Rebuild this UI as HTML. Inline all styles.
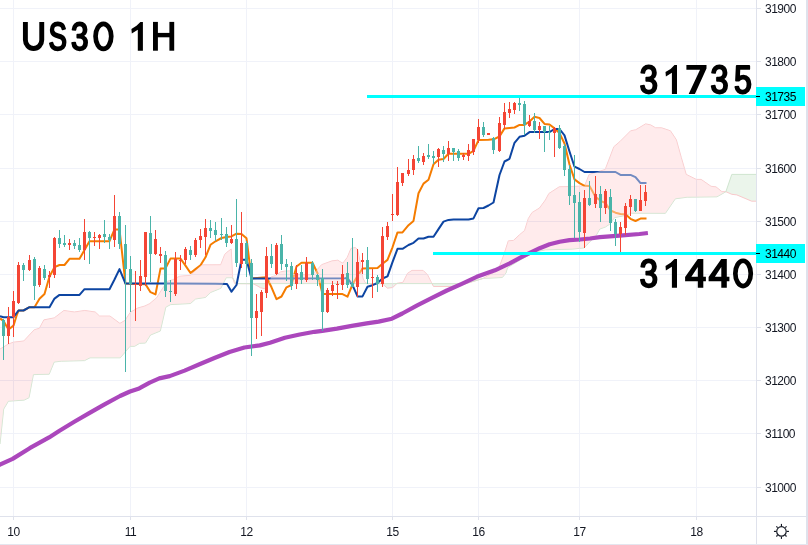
<!DOCTYPE html>
<html><head><meta charset="utf-8"><title>US30 1H</title>
<style>
html,body{margin:0;padding:0;background:#fff;}
body{width:808px;height:545px;position:relative;overflow:hidden;font-family:"Liberation Sans",sans-serif;}
.pl{position:absolute;left:765px;font-size:12px;line-height:14px;height:14px;letter-spacing:-0.5px;color:#131722;white-space:nowrap;}
.tl{position:absolute;top:525px;font-size:12px;line-height:14px;height:14px;letter-spacing:-0.5px;color:#131722;white-space:nowrap;transform:translateX(-50%);}
.big{position:absolute;font-weight:bold;font-size:40px;line-height:40px;color:transparent;white-space:nowrap;}
</style></head><body>
<svg width="808" height="545" viewBox="0 0 808 545" style="position:absolute;left:0;top:0">
<rect width="808" height="545" fill="#fff"/>
<g shape-rendering="crispEdges" fill="#f0f2f9">
<rect x="0" y="8" width="756" height="1"/>
<rect x="0" y="61" width="756" height="1"/>
<rect x="0" y="114" width="756" height="1"/>
<rect x="0" y="168" width="756" height="1"/>
<rect x="0" y="221" width="756" height="1"/>
<rect x="0" y="274" width="756" height="1"/>
<rect x="0" y="327" width="756" height="1"/>
<rect x="0" y="380" width="756" height="1"/>
<rect x="0" y="433" width="756" height="1"/>
<rect x="0" y="487" width="756" height="1"/>
<rect x="13" y="0" width="1" height="516"/>
<rect x="130" y="0" width="1" height="516"/>
<rect x="246" y="0" width="1" height="516"/>
<rect x="392" y="0" width="1" height="516"/>
<rect x="478" y="0" width="1" height="516"/>
<rect x="579" y="0" width="1" height="516"/>
<rect x="696" y="0" width="1" height="516"/>
</g>
<defs><clipPath id="cp"><rect x="0" y="0" width="756" height="516"/></clipPath></defs>
<g clip-path="url(#cp)">
<polygon points="0.0,349.1 8.2,344.2 13.4,342.2 23.8,341.0 34.2,329.8 39.4,328.3 43.9,319.9 54.3,317.9 63.9,310.5 74.3,312.0 84.8,310.5 95.2,312.0 99.6,316.1 110.0,316.1 119.9,323.4 125.1,320.4 130.3,312.3 137.9,308.0 144.9,306.0 149.8,303.6 156.8,297.6 162.7,288.2 167.7,281.3 172.6,279.8 179.6,276.3 190.5,275.3 201.4,264.9 220.7,264.8 224.7,254.5 226.2,252.9 231.2,249.0 231.9,263.0 232.6,277.7 234.6,283.4 236.1,283.6 236.1,283.6 232.6,277.7 226.2,277.7 220.8,288.3 210.7,292.4 205.5,297.4 195.5,299.0 190.5,303.5 170.5,304.6 165.8,307.2 160.3,331.0 150.5,335.0 145.5,343.0 139.6,343.3 134.6,346.3 130.0,346.3 120.3,357.8 90.0,357.8 84.5,360.6 61.3,361.2 54.2,362.0 49.2,374.2 33.4,374.6 29.0,397.7 24.1,400.1 8.4,401.2 3.7,409.0 0.0,444.0" fill="#ffebed"/>
<clipPath id="cup"><rect x="0" y="0" width="756" height="283.6"/></clipPath><clipPath id="cdn"><rect x="0" y="283.6" width="756" height="300"/></clipPath>
<polygon points="236.1,283.6 253.2,283.8 256.9,285.6 260.6,287.8 264.3,288.6 267.0,287.0 269.5,281.2 271.0,277.1 275.5,275.6 280.7,271.9 285.0,271.1 289.7,271.0 292.0,272.0 293.5,274.5 309.7,274.8 312.7,274.0 317.1,269.8 321.6,264.7 332.0,260.9 337.9,260.2 340.0,261.7 342.9,263.2 347.3,257.3 351.0,248.4 355.5,247.6 357.7,249.9 360.7,264.7 362.9,278.1 365.2,282.6 367.5,283.7 382.2,283.7 387.5,288.2 392.7,287.5 397.1,283.3 403.0,282.3 407.5,273.4 412.0,270.4 423.1,270.4 427.6,274.9 431.3,282.3 433.5,286.5 452.0,286.5 460.3,283.8 465.0,284.0 465.0,283.6 236.1,283.6" fill="#ffebed" fill-rule="evenodd" clip-path="url(#cup)"/>
<polygon points="236.1,283.6 253.2,283.8 256.9,285.6 260.6,287.8 264.3,288.6 267.0,287.0 269.5,281.2 271.0,277.1 275.5,275.6 280.7,271.9 285.0,271.1 289.7,271.0 292.0,272.0 293.5,274.5 309.7,274.8 312.7,274.0 317.1,269.8 321.6,264.7 332.0,260.9 337.9,260.2 340.0,261.7 342.9,263.2 347.3,257.3 351.0,248.4 355.5,247.6 357.7,249.9 360.7,264.7 362.9,278.1 365.2,282.6 367.5,283.7 382.2,283.7 387.5,288.2 392.7,287.5 397.1,283.3 403.0,282.3 407.5,273.4 412.0,270.4 423.1,270.4 427.6,274.9 431.3,282.3 433.5,286.5 452.0,286.5 460.3,283.8 465.0,284.0 465.0,283.6 236.1,283.6" fill="#ebf5eb" fill-rule="evenodd" clip-path="url(#cdn)"/>
<polygon points="465.0,284.0 483.5,278.2 493.0,273.0 499.3,266.9 503.8,255.0 508.3,240.9 513.5,240.4 519.4,234.9 524.6,230.5 528.3,218.6 532.0,212.6 539.5,208.0 545.4,200.0 548.9,193.5 559.3,186.8 584.6,186.1 589.1,174.5 605.2,169.5 613.9,146.7 619.8,141.7 630.7,130.8 635.7,129.8 645.6,123.9 650.6,124.9 655.5,127.8 661.5,127.8 670.4,130.8 676.3,139.7 681.3,157.6 686.2,174.4 696.2,179.4 701.1,179.4 711.0,186.3 716.0,186.9 721.9,191.7 725.9,191.7 725.9,191.7 717.0,196.8 687.2,197.2 675.3,198.8 665.4,213.3 631.5,213.2 629.0,214.1 624.6,215.6 614.6,217.6 612.7,220.1 609.9,224.0 605.4,227.0 599.8,229.0 596.0,235.7 588.6,243.1 584.1,247.9 572.2,249.1 545.4,249.8 535.0,252.0 520.0,260.0 507.5,267.7 506.0,272.9 502.3,277.5 483.5,278.4 465.0,284.0" fill="#ffebed"/>
<polygon points="725.9,191.7 731.8,174.4 756.0,174.4 756.0,201.2 751.7,201.2 736.8,194.9 731.8,194.3 725.9,191.7" fill="#ebf5eb"/>
<polyline points="0.0,349.1 8.2,344.2 13.4,342.2 23.8,341.0 34.2,329.8 39.4,328.3 43.9,319.9 54.3,317.9 63.9,310.5 74.3,312.0 84.8,310.5 95.2,312.0 99.6,316.1 110.0,316.1 119.9,323.4 125.1,320.4 130.3,312.3 137.9,308.0 144.9,306.0 149.8,303.6 156.8,297.6 162.7,288.2 167.7,281.3 172.6,279.8 179.6,276.3 190.5,275.3 201.4,264.9 220.7,264.8 224.7,254.5 226.2,252.9 231.2,249.0 231.9,263.0 232.6,277.7 234.6,283.4 236.1,283.6 253.2,283.8 256.9,285.6 260.6,287.8 264.3,288.6 267.0,287.0 269.5,281.2 271.0,277.1 275.5,275.6 280.7,271.9 285.0,271.1 289.7,271.0 292.0,272.0 293.5,274.5 309.7,274.8 312.7,274.0 317.1,269.8 321.6,264.7 332.0,260.9 337.9,260.2 340.0,261.7 342.9,263.2 347.3,257.3 351.0,248.4 355.5,247.6 357.7,249.9 360.7,264.7 362.9,278.1 365.2,282.6 367.5,283.7 382.2,283.7 387.5,288.2 392.7,287.5 397.1,283.3 403.0,282.3 407.5,273.4 412.0,270.4 423.1,270.4 427.6,274.9 431.3,282.3 433.5,286.5 452.0,286.5 460.3,283.8 465.0,284.0 483.5,278.2 493.0,273.0 499.3,266.9 503.8,255.0 508.3,240.9 513.5,240.4 519.4,234.9 524.6,230.5 528.3,218.6 532.0,212.6 539.5,208.0 545.4,200.0 548.9,193.5 559.3,186.8 584.6,186.1 589.1,174.5 605.2,169.5 613.9,146.7 619.8,141.7 630.7,130.8 635.7,129.8 645.6,123.9 650.6,124.9 655.5,127.8 661.5,127.8 670.4,130.8 676.3,139.7 681.3,157.6 686.2,174.4 696.2,179.4 701.1,179.4 711.0,186.3 716.0,186.9 721.9,191.7 725.9,191.7 731.8,194.3 736.8,194.9 751.7,201.2 756.0,201.2" fill="none" stroke="#f9c9cb" stroke-width="1"/>
<polyline points="0.0,444.0 3.7,409.0 8.4,401.2 24.1,400.1 29.0,397.7 33.4,374.6 49.2,374.2 54.2,362.0 61.3,361.2 84.5,360.6 90.0,357.8 120.3,357.8 130.0,346.3 134.6,346.3 139.6,343.3 145.5,343.0 150.5,335.0 160.3,331.0 165.8,307.2 170.5,304.6 190.5,303.5 195.5,299.0 205.5,297.4 210.7,292.4 220.8,288.3 226.2,277.7 232.6,277.7 236.1,283.6 236.1,283.6 465.0,283.6 483.5,278.4 502.3,277.5 506.0,272.9 507.5,267.7 520.0,260.0 535.0,252.0 545.4,249.8 572.2,249.1 584.1,247.9 588.6,243.1 596.0,235.7 599.8,229.0 605.4,227.0 609.9,224.0 612.7,220.1 614.6,217.6 624.6,215.6 629.0,214.1 631.5,213.2 665.4,213.3 675.3,198.8 687.2,197.2 717.0,196.8 725.9,191.7 731.8,174.4 756.0,174.4" fill="none" stroke="#cfe5cf" stroke-width="1"/>
<polyline points="0.0,318.4 3.5,320.9 8.5,329.5 13.5,325.6 16.4,316.2 18.5,310.6 23.5,310.5 29.5,307.2 34.5,307.2 39.5,298.8 44.5,294.0 49.5,276.5 54.5,267.2 59.5,265.0 64.5,265.0 69.5,258.8 74.5,258.8 79.5,258.8 84.5,250.1 89.5,241.2 109.5,241.2 114.5,229.4 119.5,229.6 125.5,283.6 145.5,284.2 150.5,292.2 155.5,294.4 160.5,268.6 165.5,268.4 170.5,258.6 175.5,258.6 180.5,258.6 185.5,265.6 190.5,273.0 195.5,269.1 200.5,265.2 205.5,257.3 210.5,244.8 215.5,241.3 221.5,238.0 226.5,237.0 231.5,236.4 236.5,233.7 241.5,234.0 246.5,238.3 251.5,278.4 266.5,277.2 271.5,287.3 276.5,299.2 281.5,296.5 286.5,287.3 291.5,285.0 296.5,266.5 301.5,262.7 306.5,262.7 312.5,262.7 317.5,273.2 322.5,294.0 342.5,294.1 347.5,296.7 352.5,284.5 357.5,276.0 362.5,268.6 377.5,268.1 382.5,263.7 387.5,259.9 392.5,247.3 397.5,232.4 402.5,232.4 408.5,225.2 413.5,220.9 418.5,193.3 423.5,183.6 428.5,179.8 433.5,164.2 438.5,159.7 443.5,159.0 448.5,153.8 468.5,153.8 473.5,150.8 478.5,140.1 488.5,139.8 493.5,139.3 499.5,136.5 504.5,128.4 509.5,128.0 514.5,127.5 519.5,124.9 524.5,124.9 529.5,121.5 534.5,116.8 539.5,118.0 544.5,123.9 549.5,124.5 554.5,128.4 559.5,133.1 564.5,143.5 569.5,164.5 574.5,179.4 579.5,183.1 584.5,185.8 589.5,186.1 595.5,196.8 600.5,200.8 605.5,203.0 610.5,210.5 615.5,212.7 620.5,214.0 625.5,214.3 630.5,218.8 635.5,221.0 640.5,218.6 646.5,218.6" fill="none" stroke="#f57c00" stroke-width="2" stroke-linejoin="round" stroke-linecap="butt"/>
<polyline points="0.0,316.1 3.5,317.2 13.5,317.2 18.5,310.5 23.5,310.5 29.5,307.2 49.5,307.2 54.5,298.6 59.5,294.9 79.5,294.9 84.5,289.2 109.5,289.2 114.5,279.5 119.5,269.1 125.5,283.6 175.5,283.6 215.5,283.8 227.0,284.0 231.5,291.7 236.5,285.0 241.5,259.7 246.5,259.7 251.5,278.4 268.0,278.4 345.0,278.2 347.5,278.1 352.5,285.2 357.5,296.4 362.5,296.4 367.5,286.7 372.5,285.2 377.5,283.0 382.5,278.5 387.5,276.3 392.5,262.2 397.5,248.8 402.5,248.8 408.5,245.0 413.5,242.8 418.5,238.5 423.5,238.5 428.5,236.8 433.5,236.8 438.5,229.1 443.5,221.6 448.5,219.9 453.5,219.4 468.5,219.4 473.5,218.4 478.5,208.3 483.5,208.0 488.5,205.5 493.5,202.5 499.5,175.0 504.5,161.5 509.5,158.8 514.5,142.8 519.5,136.8 524.5,135.8 529.5,132.1 549.5,132.1 554.5,129.0 559.5,129.0 564.5,135.4 569.5,151.5 574.5,166.7 579.5,169.0 584.5,172.0 600.0,172.0 615.5,172.0 620.5,174.9 630.5,174.9 635.5,177.2 640.5,183.1 646.5,183.1" fill="none" stroke="#0d45a2" stroke-width="2" stroke-linejoin="round" stroke-linecap="butt"/>
<polygon points="0.0,349.1 8.2,344.2 13.4,342.2 23.8,341.0 34.2,329.8 39.4,328.3 43.9,319.9 54.3,317.9 63.9,310.5 74.3,312.0 84.8,310.5 95.2,312.0 99.6,316.1 110.0,316.1 119.9,323.4 125.1,320.4 130.3,312.3 137.9,308.0 144.9,306.0 149.8,303.6 156.8,297.6 162.7,288.2 167.7,281.3 172.6,279.8 179.6,276.3 190.5,275.3 201.4,264.9 220.7,264.8 224.7,254.5 226.2,252.9 231.2,249.0 231.9,263.0 232.6,277.7 234.6,283.4 236.1,283.6 236.1,283.6 232.6,277.7 226.2,277.7 220.8,288.3 210.7,292.4 205.5,297.4 195.5,299.0 190.5,303.5 170.5,304.6 165.8,307.2 160.3,331.0 150.5,335.0 145.5,343.0 139.6,343.3 134.6,346.3 130.0,346.3 120.3,357.8 90.0,357.8 84.5,360.6 61.3,361.2 54.2,362.0 49.2,374.2 33.4,374.6 29.0,397.7 24.1,400.1 8.4,401.2 3.7,409.0 0.0,444.0" fill="#ffebed" fill-opacity="0.42"/>
<polygon points="236.1,283.6 253.2,283.8 256.9,285.6 260.6,287.8 264.3,288.6 267.0,287.0 269.5,281.2 271.0,277.1 275.5,275.6 280.7,271.9 285.0,271.1 289.7,271.0 292.0,272.0 293.5,274.5 309.7,274.8 312.7,274.0 317.1,269.8 321.6,264.7 332.0,260.9 337.9,260.2 340.0,261.7 342.9,263.2 347.3,257.3 351.0,248.4 355.5,247.6 357.7,249.9 360.7,264.7 362.9,278.1 365.2,282.6 367.5,283.7 382.2,283.7 387.5,288.2 392.7,287.5 397.1,283.3 403.0,282.3 407.5,273.4 412.0,270.4 423.1,270.4 427.6,274.9 431.3,282.3 433.5,286.5 452.0,286.5 460.3,283.8 465.0,284.0 465.0,283.6 236.1,283.6" fill="#ffebed" fill-opacity="0.42" clip-path="url(#cup)"/>
<polygon points="465.0,284.0 483.5,278.2 493.0,273.0 499.3,266.9 503.8,255.0 508.3,240.9 513.5,240.4 519.4,234.9 524.6,230.5 528.3,218.6 532.0,212.6 539.5,208.0 545.4,200.0 548.9,193.5 559.3,186.8 584.6,186.1 589.1,174.5 605.2,169.5 613.9,146.7 619.8,141.7 630.7,130.8 635.7,129.8 645.6,123.9 650.6,124.9 655.5,127.8 661.5,127.8 670.4,130.8 676.3,139.7 681.3,157.6 686.2,174.4 696.2,179.4 701.1,179.4 711.0,186.3 716.0,186.9 721.9,191.7 725.9,191.7 725.9,191.7 717.0,196.8 687.2,197.2 675.3,198.8 665.4,213.3 631.5,213.2 629.0,214.1 624.6,215.6 614.6,217.6 612.7,220.1 609.9,224.0 605.4,227.0 599.8,229.0 596.0,235.7 588.6,243.1 584.1,247.9 572.2,249.1 545.4,249.8 535.0,252.0 520.0,260.0 507.5,267.7 506.0,272.9 502.3,277.5 483.5,278.4 465.0,284.0" fill="#ffebed" fill-opacity="0.42"/>
<clipPath id="cl"><polygon points="0.0,349.1 8.2,344.2 13.4,342.2 23.8,341.0 34.2,329.8 39.4,328.3 43.9,319.9 54.3,317.9 63.9,310.5 74.3,312.0 84.8,310.5 95.2,312.0 99.6,316.1 110.0,316.1 119.9,323.4 125.1,320.4 130.3,312.3 137.9,308.0 144.9,306.0 149.8,303.6 156.8,297.6 162.7,288.2 167.7,281.3 172.6,279.8 179.6,276.3 190.5,275.3 201.4,264.9 220.7,264.8 224.7,254.5 226.2,252.9 231.2,249.0 231.9,263.0 232.6,277.7 234.6,283.4 236.1,283.6 236.1,283.6 232.6,277.7 226.2,277.7 220.8,288.3 210.7,292.4 205.5,297.4 195.5,299.0 190.5,303.5 170.5,304.6 165.8,307.2 160.3,331.0 150.5,335.0 145.5,343.0 139.6,343.3 134.6,346.3 130.0,346.3 120.3,357.8 90.0,357.8 84.5,360.6 61.3,361.2 54.2,362.0 49.2,374.2 33.4,374.6 29.0,397.7 24.1,400.1 8.4,401.2 3.7,409.0 0.0,444.0"/><polygon points="236.1,283.6 253.2,283.8 256.9,285.6 260.6,287.8 264.3,288.6 267.0,287.0 269.5,281.2 271.0,277.1 275.5,275.6 280.7,271.9 285.0,271.1 289.7,271.0 292.0,272.0 293.5,274.5 309.7,274.8 312.7,274.0 317.1,269.8 321.6,264.7 332.0,260.9 337.9,260.2 340.0,261.7 342.9,263.2 347.3,257.3 351.0,248.4 355.5,247.6 357.7,249.9 360.7,264.7 362.9,278.1 365.2,282.6 367.5,283.7 382.2,283.7 387.5,288.2 392.7,287.5 397.1,283.3 403.0,282.3 407.5,273.4 412.0,270.4 423.1,270.4 427.6,274.9 431.3,282.3 433.5,286.5 452.0,286.5 460.3,283.8 465.0,284.0 465.0,283.6 236.1,283.6"/><polygon points="465.0,284.0 483.5,278.2 493.0,273.0 499.3,266.9 503.8,255.0 508.3,240.9 513.5,240.4 519.4,234.9 524.6,230.5 528.3,218.6 532.0,212.6 539.5,208.0 545.4,200.0 548.9,193.5 559.3,186.8 584.6,186.1 589.1,174.5 605.2,169.5 613.9,146.7 619.8,141.7 630.7,130.8 635.7,129.8 645.6,123.9 650.6,124.9 655.5,127.8 661.5,127.8 670.4,130.8 676.3,139.7 681.3,157.6 686.2,174.4 696.2,179.4 701.1,179.4 711.0,186.3 716.0,186.9 721.9,191.7 725.9,191.7 725.9,191.7 717.0,196.8 687.2,197.2 675.3,198.8 665.4,213.3 631.5,213.2 629.0,214.1 624.6,215.6 614.6,217.6 612.7,220.1 609.9,224.0 605.4,227.0 599.8,229.0 596.0,235.7 588.6,243.1 584.1,247.9 572.2,249.1 545.4,249.8 535.0,252.0 520.0,260.0 507.5,267.7 506.0,272.9 502.3,277.5 483.5,278.4 465.0,284.0"/><polygon points="725.9,191.7 731.8,174.4 756.0,174.4 756.0,201.2 751.7,201.2 736.8,194.9 731.8,194.3 725.9,191.7"/></clipPath>
<g clip-path="url(#cl)" shape-rendering="crispEdges" fill="#eedde6">
<rect x="0" y="8" width="756" height="1"/>
<rect x="0" y="61" width="756" height="1"/>
<rect x="0" y="114" width="756" height="1"/>
<rect x="0" y="168" width="756" height="1"/>
<rect x="0" y="221" width="756" height="1"/>
<rect x="0" y="274" width="756" height="1"/>
<rect x="0" y="327" width="756" height="1"/>
<rect x="0" y="380" width="756" height="1"/>
<rect x="0" y="433" width="756" height="1"/>
<rect x="0" y="487" width="756" height="1"/>
<rect x="13" y="0" width="1" height="516"/>
<rect x="130" y="0" width="1" height="516"/>
<rect x="246" y="0" width="1" height="516"/>
<rect x="392" y="0" width="1" height="516"/>
<rect x="478" y="0" width="1" height="516"/>
<rect x="579" y="0" width="1" height="516"/>
<rect x="696" y="0" width="1" height="516"/>
</g>
<polyline points="-2.0,465.5 0.0,464.6 12.6,458.9 29.7,448.2 49.1,437.4 59.5,430.7 74.3,421.8 89.2,413.1 104.1,404.7 120.0,396.0 130.0,391.5 139.2,388.4 149.7,382.6 159.3,378.4 169.7,376.1 184.6,370.6 199.5,364.3 214.4,358.0 229.5,352.0 244.4,347.5 259.8,345.4 270.0,342.7 284.9,337.8 299.7,334.5 314.6,331.8 322.3,330.8 336.9,328.6 351.8,325.9 366.7,323.4 378.6,321.6 391.9,318.7 402.3,313.5 417.2,305.4 432.0,297.9 446.9,290.5 461.8,283.8 476.7,276.8 494.9,270.3 509.7,263.3 519.9,257.9 529.8,252.8 539.7,248.2 549.6,244.3 559.6,241.7 569.5,240.1 580.0,239.5 590.0,238.5 599.8,237.2 619.6,235.7 639.5,234.0 647.9,233.0" fill="none" stroke="#ab47bc" stroke-width="4.2" stroke-linejoin="round"/>
<g shape-rendering="crispEdges">
<rect x="3" y="319" width="1" height="41" fill="#4ab4a9"/>
<rect x="2" y="320" width="3" height="16" fill="#4ab4a9"/>
<rect x="8" y="307" width="1" height="37" fill="#f44535"/>
<rect x="7" y="317" width="3" height="19" fill="#f44535"/>
<rect x="13" y="291" width="1" height="46" fill="#f44535"/>
<rect x="12" y="301" width="3" height="16" fill="#f44535"/>
<rect x="18" y="262" width="1" height="42" fill="#f44535"/>
<rect x="17" y="265" width="3" height="38" fill="#f44535"/>
<rect x="23" y="263" width="1" height="18" fill="#4ab4a9"/>
<rect x="22" y="265" width="3" height="5" fill="#4ab4a9"/>
<rect x="29" y="255" width="1" height="16" fill="#f44535"/>
<rect x="28" y="260" width="3" height="10" fill="#f44535"/>
<rect x="34" y="257" width="1" height="43" fill="#4ab4a9"/>
<rect x="33" y="259" width="3" height="27" fill="#4ab4a9"/>
<rect x="39" y="266" width="1" height="21" fill="#f44535"/>
<rect x="38" y="268" width="3" height="17" fill="#f44535"/>
<rect x="44" y="265" width="1" height="15" fill="#4ab4a9"/>
<rect x="43" y="269" width="3" height="9" fill="#4ab4a9"/>
<rect x="49" y="271" width="1" height="17" fill="#f44535"/>
<rect x="48" y="275" width="3" height="2" fill="#f44535"/>
<rect x="54" y="237" width="1" height="41" fill="#f44535"/>
<rect x="53" y="238" width="3" height="37" fill="#f44535"/>
<rect x="59" y="230" width="1" height="18" fill="#4ab4a9"/>
<rect x="58" y="238" width="3" height="6" fill="#4ab4a9"/>
<rect x="64" y="235" width="1" height="12" fill="#4ab4a9"/>
<rect x="63" y="243" width="3" height="2" fill="#4ab4a9"/>
<rect x="69" y="239" width="1" height="11" fill="#f44535"/>
<rect x="68" y="243" width="3" height="2" fill="#f44535"/>
<rect x="74" y="240" width="1" height="9" fill="#4ab4a9"/>
<rect x="73" y="243" width="3" height="3" fill="#4ab4a9"/>
<rect x="79" y="238" width="1" height="14" fill="#4ab4a9"/>
<rect x="78" y="245" width="3" height="5" fill="#4ab4a9"/>
<rect x="84" y="219" width="1" height="41" fill="#f44535"/>
<rect x="83" y="232" width="3" height="18" fill="#f44535"/>
<rect x="89" y="231" width="1" height="33" fill="#4ab4a9"/>
<rect x="88" y="232" width="3" height="6" fill="#4ab4a9"/>
<rect x="94" y="232" width="1" height="14" fill="#f44535"/>
<rect x="93" y="237" width="3" height="1" fill="#f44535"/>
<rect x="99" y="234" width="1" height="15" fill="#f44535"/>
<rect x="98" y="235" width="3" height="3" fill="#f44535"/>
<rect x="104" y="220" width="1" height="23" fill="#4ab4a9"/>
<rect x="103" y="234" width="3" height="3" fill="#4ab4a9"/>
<rect x="109" y="234" width="1" height="15" fill="#4ab4a9"/>
<rect x="108" y="237" width="3" height="3" fill="#4ab4a9"/>
<rect x="114" y="195" width="1" height="52" fill="#f44535"/>
<rect x="113" y="216" width="3" height="24" fill="#f44535"/>
<rect x="119" y="212" width="1" height="37" fill="#4ab4a9"/>
<rect x="118" y="216" width="3" height="28" fill="#4ab4a9"/>
<rect x="125" y="225" width="1" height="147" fill="#4ab4a9"/>
<rect x="124" y="244" width="3" height="25" fill="#4ab4a9"/>
<rect x="130" y="256" width="1" height="56" fill="#4ab4a9"/>
<rect x="129" y="269" width="3" height="15" fill="#4ab4a9"/>
<rect x="135" y="271" width="1" height="50" fill="#f44535"/>
<rect x="134" y="284" width="3" height="1" fill="#f44535"/>
<rect x="140" y="260" width="1" height="31" fill="#f44535"/>
<rect x="139" y="276" width="3" height="10" fill="#f44535"/>
<rect x="145" y="232" width="1" height="54" fill="#f44535"/>
<rect x="144" y="232" width="3" height="45" fill="#f44535"/>
<rect x="150" y="216" width="1" height="66" fill="#4ab4a9"/>
<rect x="149" y="233" width="3" height="21" fill="#4ab4a9"/>
<rect x="155" y="230" width="1" height="25" fill="#f44535"/>
<rect x="154" y="239" width="3" height="15" fill="#f44535"/>
<rect x="160" y="247" width="1" height="16" fill="#f44535"/>
<rect x="159" y="254" width="3" height="2" fill="#f44535"/>
<rect x="165" y="251" width="1" height="46" fill="#4ab4a9"/>
<rect x="164" y="255" width="3" height="36" fill="#4ab4a9"/>
<rect x="170" y="280" width="1" height="22" fill="#4ab4a9"/>
<rect x="169" y="291" width="3" height="1" fill="#4ab4a9"/>
<rect x="175" y="252" width="1" height="44" fill="#f44535"/>
<rect x="174" y="259" width="3" height="35" fill="#f44535"/>
<rect x="180" y="255" width="1" height="15" fill="#f44535"/>
<rect x="179" y="260" width="3" height="1" fill="#f44535"/>
<rect x="185" y="247" width="1" height="17" fill="#f44535"/>
<rect x="184" y="249" width="3" height="11" fill="#f44535"/>
<rect x="190" y="246" width="1" height="14" fill="#4ab4a9"/>
<rect x="189" y="250" width="3" height="5" fill="#4ab4a9"/>
<rect x="195" y="238" width="1" height="19" fill="#f44535"/>
<rect x="194" y="240" width="3" height="15" fill="#f44535"/>
<rect x="200" y="229" width="1" height="19" fill="#f44535"/>
<rect x="199" y="236" width="3" height="4" fill="#f44535"/>
<rect x="205" y="219" width="1" height="36" fill="#f44535"/>
<rect x="204" y="228" width="3" height="9" fill="#f44535"/>
<rect x="210" y="220" width="1" height="18" fill="#4ab4a9"/>
<rect x="209" y="228" width="3" height="3" fill="#4ab4a9"/>
<rect x="215" y="222" width="1" height="19" fill="#4ab4a9"/>
<rect x="214" y="230" width="3" height="5" fill="#4ab4a9"/>
<rect x="221" y="218" width="1" height="22" fill="#4ab4a9"/>
<rect x="220" y="234" width="3" height="1" fill="#4ab4a9"/>
<rect x="226" y="227" width="1" height="20" fill="#4ab4a9"/>
<rect x="225" y="234" width="3" height="9" fill="#4ab4a9"/>
<rect x="231" y="225" width="1" height="19" fill="#f44535"/>
<rect x="230" y="239" width="3" height="4" fill="#f44535"/>
<rect x="236" y="199" width="1" height="68" fill="#4ab4a9"/>
<rect x="235" y="239" width="3" height="24" fill="#4ab4a9"/>
<rect x="241" y="212" width="1" height="56" fill="#f44535"/>
<rect x="240" y="243" width="3" height="21" fill="#f44535"/>
<rect x="246" y="241" width="1" height="36" fill="#4ab4a9"/>
<rect x="245" y="243" width="3" height="21" fill="#4ab4a9"/>
<rect x="251" y="259" width="1" height="97" fill="#4ab4a9"/>
<rect x="250" y="263" width="3" height="55" fill="#4ab4a9"/>
<rect x="256" y="294" width="1" height="45" fill="#f44535"/>
<rect x="255" y="311" width="3" height="7" fill="#f44535"/>
<rect x="261" y="290" width="1" height="46" fill="#f44535"/>
<rect x="260" y="292" width="3" height="20" fill="#f44535"/>
<rect x="266" y="247" width="1" height="51" fill="#f44535"/>
<rect x="265" y="256" width="3" height="37" fill="#f44535"/>
<rect x="271" y="244" width="1" height="24" fill="#4ab4a9"/>
<rect x="270" y="256" width="3" height="8" fill="#4ab4a9"/>
<rect x="276" y="243" width="1" height="32" fill="#f44535"/>
<rect x="275" y="245" width="3" height="29" fill="#f44535"/>
<rect x="281" y="235" width="1" height="35" fill="#4ab4a9"/>
<rect x="280" y="244" width="3" height="20" fill="#4ab4a9"/>
<rect x="286" y="259" width="1" height="22" fill="#4ab4a9"/>
<rect x="285" y="264" width="3" height="3" fill="#4ab4a9"/>
<rect x="291" y="262" width="1" height="28" fill="#4ab4a9"/>
<rect x="290" y="266" width="3" height="20" fill="#4ab4a9"/>
<rect x="296" y="265" width="1" height="24" fill="#f44535"/>
<rect x="295" y="273" width="3" height="11" fill="#f44535"/>
<rect x="301" y="265" width="1" height="19" fill="#4ab4a9"/>
<rect x="300" y="272" width="3" height="8" fill="#4ab4a9"/>
<rect x="306" y="257" width="1" height="25" fill="#f44535"/>
<rect x="305" y="263" width="3" height="17" fill="#f44535"/>
<rect x="312" y="261" width="1" height="19" fill="#4ab4a9"/>
<rect x="311" y="263" width="3" height="12" fill="#4ab4a9"/>
<rect x="317" y="274" width="1" height="12" fill="#4ab4a9"/>
<rect x="316" y="275" width="3" height="5" fill="#4ab4a9"/>
<rect x="322" y="269" width="1" height="62" fill="#4ab4a9"/>
<rect x="321" y="278" width="3" height="34" fill="#4ab4a9"/>
<rect x="327" y="288" width="1" height="25" fill="#f44535"/>
<rect x="326" y="290" width="3" height="22" fill="#f44535"/>
<rect x="332" y="281" width="1" height="15" fill="#f44535"/>
<rect x="331" y="285" width="3" height="6" fill="#f44535"/>
<rect x="337" y="281" width="1" height="18" fill="#f44535"/>
<rect x="336" y="284" width="3" height="1" fill="#f44535"/>
<rect x="342" y="265" width="1" height="25" fill="#f44535"/>
<rect x="341" y="274" width="3" height="11" fill="#f44535"/>
<rect x="347" y="262" width="1" height="26" fill="#4ab4a9"/>
<rect x="346" y="273" width="3" height="12" fill="#4ab4a9"/>
<rect x="352" y="238" width="1" height="49" fill="#4ab4a9"/>
<rect x="351" y="283" width="3" height="4" fill="#4ab4a9"/>
<rect x="357" y="249" width="1" height="48" fill="#f44535"/>
<rect x="356" y="262" width="3" height="25" fill="#f44535"/>
<rect x="362" y="253" width="1" height="21" fill="#f44535"/>
<rect x="361" y="260" width="3" height="2" fill="#f44535"/>
<rect x="367" y="247" width="1" height="37" fill="#4ab4a9"/>
<rect x="366" y="260" width="3" height="19" fill="#4ab4a9"/>
<rect x="372" y="269" width="1" height="29" fill="#f44535"/>
<rect x="371" y="277" width="3" height="1" fill="#f44535"/>
<rect x="377" y="275" width="1" height="17" fill="#4ab4a9"/>
<rect x="376" y="277" width="3" height="7" fill="#4ab4a9"/>
<rect x="382" y="227" width="1" height="60" fill="#f44535"/>
<rect x="381" y="236" width="3" height="48" fill="#f44535"/>
<rect x="387" y="222" width="1" height="18" fill="#f44535"/>
<rect x="386" y="226" width="3" height="11" fill="#f44535"/>
<rect x="392" y="194" width="1" height="27" fill="#f44535"/>
<rect x="391" y="214" width="3" height="1" fill="#f44535"/>
<rect x="397" y="167" width="1" height="49" fill="#f44535"/>
<rect x="396" y="182" width="3" height="33" fill="#f44535"/>
<rect x="402" y="173" width="1" height="13" fill="#f44535"/>
<rect x="401" y="173" width="3" height="10" fill="#f44535"/>
<rect x="408" y="159" width="1" height="17" fill="#f44535"/>
<rect x="407" y="170" width="3" height="4" fill="#f44535"/>
<rect x="413" y="155" width="1" height="20" fill="#f44535"/>
<rect x="412" y="159" width="3" height="11" fill="#f44535"/>
<rect x="418" y="146" width="1" height="17" fill="#4ab4a9"/>
<rect x="417" y="158" width="3" height="3" fill="#4ab4a9"/>
<rect x="423" y="153" width="1" height="12" fill="#f44535"/>
<rect x="422" y="156" width="3" height="6" fill="#f44535"/>
<rect x="428" y="144" width="1" height="15" fill="#4ab4a9"/>
<rect x="427" y="155" width="3" height="2" fill="#4ab4a9"/>
<rect x="433" y="151" width="1" height="13" fill="#4ab4a9"/>
<rect x="432" y="156" width="3" height="2" fill="#4ab4a9"/>
<rect x="438" y="148" width="1" height="19" fill="#f44535"/>
<rect x="437" y="149" width="3" height="8" fill="#f44535"/>
<rect x="443" y="146" width="1" height="16" fill="#4ab4a9"/>
<rect x="442" y="150" width="3" height="4" fill="#4ab4a9"/>
<rect x="448" y="141" width="1" height="20" fill="#f44535"/>
<rect x="447" y="148" width="3" height="6" fill="#f44535"/>
<rect x="453" y="148" width="1" height="13" fill="#4ab4a9"/>
<rect x="452" y="148" width="3" height="4" fill="#4ab4a9"/>
<rect x="458" y="149" width="1" height="12" fill="#4ab4a9"/>
<rect x="457" y="151" width="3" height="7" fill="#4ab4a9"/>
<rect x="463" y="153" width="1" height="7" fill="#f44535"/>
<rect x="462" y="155" width="3" height="2" fill="#f44535"/>
<rect x="468" y="144" width="1" height="17" fill="#f44535"/>
<rect x="467" y="150" width="3" height="6" fill="#f44535"/>
<rect x="473" y="139" width="1" height="16" fill="#f44535"/>
<rect x="472" y="139" width="3" height="13" fill="#f44535"/>
<rect x="478" y="119" width="1" height="24" fill="#f44535"/>
<rect x="477" y="127" width="3" height="13" fill="#f44535"/>
<rect x="483" y="122" width="1" height="15" fill="#4ab4a9"/>
<rect x="482" y="127" width="3" height="8" fill="#4ab4a9"/>
<rect x="488" y="133" width="1" height="2" fill="#f44535"/>
<rect x="487" y="133" width="3" height="2" fill="#f44535"/>
<rect x="493" y="137" width="1" height="17" fill="#4ab4a9"/>
<rect x="492" y="138" width="3" height="12" fill="#4ab4a9"/>
<rect x="499" y="117" width="1" height="35" fill="#f44535"/>
<rect x="498" y="123" width="3" height="28" fill="#f44535"/>
<rect x="504" y="103" width="1" height="26" fill="#f44535"/>
<rect x="503" y="112" width="3" height="13" fill="#f44535"/>
<rect x="509" y="102" width="1" height="16" fill="#f44535"/>
<rect x="508" y="109" width="3" height="4" fill="#f44535"/>
<rect x="514" y="102" width="1" height="12" fill="#f44535"/>
<rect x="513" y="103" width="3" height="7" fill="#f44535"/>
<rect x="519" y="98" width="1" height="13" fill="#4ab4a9"/>
<rect x="518" y="103" width="3" height="2" fill="#4ab4a9"/>
<rect x="524" y="101" width="1" height="34" fill="#4ab4a9"/>
<rect x="523" y="104" width="3" height="21" fill="#4ab4a9"/>
<rect x="529" y="115" width="1" height="12" fill="#f44535"/>
<rect x="528" y="121" width="3" height="5" fill="#f44535"/>
<rect x="534" y="113" width="1" height="20" fill="#4ab4a9"/>
<rect x="533" y="121" width="3" height="9" fill="#4ab4a9"/>
<rect x="539" y="122" width="1" height="17" fill="#f44535"/>
<rect x="538" y="126" width="3" height="4" fill="#f44535"/>
<rect x="544" y="126" width="1" height="26" fill="#4ab4a9"/>
<rect x="543" y="126" width="3" height="6" fill="#4ab4a9"/>
<rect x="549" y="126" width="1" height="14" fill="#4ab4a9"/>
<rect x="548" y="132" width="3" height="1" fill="#4ab4a9"/>
<rect x="554" y="127" width="1" height="30" fill="#f44535"/>
<rect x="553" y="128" width="3" height="5" fill="#f44535"/>
<rect x="559" y="125" width="1" height="24" fill="#4ab4a9"/>
<rect x="558" y="128" width="3" height="20" fill="#4ab4a9"/>
<rect x="564" y="144" width="1" height="32" fill="#4ab4a9"/>
<rect x="563" y="146" width="3" height="24" fill="#4ab4a9"/>
<rect x="569" y="165" width="1" height="40" fill="#4ab4a9"/>
<rect x="568" y="169" width="3" height="27" fill="#4ab4a9"/>
<rect x="574" y="155" width="1" height="83" fill="#4ab4a9"/>
<rect x="573" y="195" width="3" height="8" fill="#4ab4a9"/>
<rect x="579" y="192" width="1" height="50" fill="#4ab4a9"/>
<rect x="578" y="202" width="3" height="30" fill="#4ab4a9"/>
<rect x="584" y="190" width="1" height="58" fill="#f44535"/>
<rect x="583" y="198" width="3" height="35" fill="#f44535"/>
<rect x="589" y="181" width="1" height="25" fill="#4ab4a9"/>
<rect x="588" y="198" width="3" height="7" fill="#4ab4a9"/>
<rect x="595" y="176" width="1" height="32" fill="#f44535"/>
<rect x="594" y="194" width="3" height="10" fill="#f44535"/>
<rect x="600" y="186" width="1" height="36" fill="#4ab4a9"/>
<rect x="599" y="194" width="3" height="14" fill="#4ab4a9"/>
<rect x="605" y="189" width="1" height="25" fill="#f44535"/>
<rect x="604" y="191" width="3" height="17" fill="#f44535"/>
<rect x="610" y="189" width="1" height="42" fill="#4ab4a9"/>
<rect x="609" y="197" width="3" height="26" fill="#4ab4a9"/>
<rect x="615" y="219" width="1" height="27" fill="#4ab4a9"/>
<rect x="614" y="222" width="3" height="12" fill="#4ab4a9"/>
<rect x="620" y="222" width="1" height="30" fill="#f44535"/>
<rect x="619" y="227" width="3" height="7" fill="#f44535"/>
<rect x="625" y="203" width="1" height="32" fill="#f44535"/>
<rect x="624" y="206" width="3" height="22" fill="#f44535"/>
<rect x="630" y="195" width="1" height="21" fill="#f44535"/>
<rect x="629" y="199" width="3" height="8" fill="#f44535"/>
<rect x="635" y="199" width="1" height="13" fill="#4ab4a9"/>
<rect x="634" y="199" width="3" height="12" fill="#4ab4a9"/>
<rect x="640" y="185" width="1" height="26" fill="#f44535"/>
<rect x="639" y="200" width="3" height="11" fill="#f44535"/>
<rect x="645" y="185" width="1" height="21" fill="#f44535"/>
<rect x="644" y="192" width="3" height="9" fill="#f44535"/>
</g>
<rect x="367" y="95" width="389" height="3" fill="#00ffff" shape-rendering="crispEdges"/>
<rect x="433" y="252" width="323" height="3" fill="#00ffff" shape-rendering="crispEdges"/>
</g>
<g shape-rendering="crispEdges" fill="#dfe2ec">
<rect x="756" y="0" width="1" height="545"/>
<rect x="0" y="516" width="808" height="1"/>
<rect x="806" y="0" width="2" height="545"/>
<rect x="0" y="544" width="808" height="1" fill="#e4e6ef"/>
<rect x="757" y="8" width="4" height="1"/>
<rect x="757" y="61" width="4" height="1"/>
<rect x="757" y="114" width="4" height="1"/>
<rect x="757" y="168" width="4" height="1"/>
<rect x="757" y="221" width="4" height="1"/>
<rect x="757" y="274" width="4" height="1"/>
<rect x="757" y="327" width="4" height="1"/>
<rect x="757" y="380" width="4" height="1"/>
<rect x="757" y="433" width="4" height="1"/>
<rect x="757" y="487" width="4" height="1"/>
<rect x="13" y="517" width="1" height="3"/>
<rect x="130" y="517" width="1" height="3"/>
<rect x="246" y="517" width="1" height="3"/>
<rect x="392" y="517" width="1" height="3"/>
<rect x="478" y="517" width="1" height="3"/>
<rect x="579" y="517" width="1" height="3"/>
<rect x="696" y="517" width="1" height="3"/>
</g>
<rect x="756" y="87" width="49" height="19" fill="#00ffff" shape-rendering="crispEdges"/>
<rect x="756" y="244" width="49" height="19" fill="#00ffff" shape-rendering="crispEdges"/>
<rect x="756" y="96" width="4" height="1" fill="#000" shape-rendering="crispEdges"/>
<rect x="756" y="253" width="4" height="1" fill="#000" shape-rendering="crispEdges"/>
<g stroke="#131722" stroke-width="1.15" fill="none"><circle cx="781.45" cy="531.4" r="4.75"/>
<line x1="786.75" y1="531.40" x2="788.95" y2="531.40"/>
<line x1="785.27" y1="535.22" x2="786.54" y2="536.49"/>
<line x1="781.45" y1="536.70" x2="781.45" y2="538.90"/>
<line x1="777.63" y1="535.22" x2="776.36" y2="536.49"/>
<line x1="776.15" y1="531.40" x2="773.95" y2="531.40"/>
<line x1="777.63" y1="527.58" x2="776.36" y2="526.31"/>
<line x1="781.45" y1="526.10" x2="781.45" y2="523.90"/>
<line x1="785.27" y1="527.58" x2="786.54" y2="526.31"/>
</g>
</svg>
<div id="txt" style="position:absolute;left:0;top:0;width:808px;height:545px;will-change:transform;">
<div class="pl" style="top:2px">31900</div>
<div class="pl" style="top:55px">31800</div>
<div class="pl" style="top:108px">31700</div>
<div class="pl" style="top:162px">31600</div>
<div class="pl" style="top:215px">31500</div>
<div class="pl" style="top:268px">31400</div>
<div class="pl" style="top:321px">31300</div>
<div class="pl" style="top:374px">31200</div>
<div class="pl" style="top:427px">31100</div>
<div class="pl" style="top:481px">31000</div>
<div class="pl" style="top:90px;color:#000">31735</div>
<div class="pl" style="top:247px;color:#000">31440</div>
<div class="tl" style="left:13.5px">10</div>
<div class="tl" style="left:130.5px">11</div>
<div class="tl" style="left:246.5px">12</div>
<div class="tl" style="left:392.5px">15</div>
<div class="tl" style="left:478.5px">16</div>
<div class="tl" style="left:579.5px">17</div>
<div class="tl" style="left:696.5px">18</div>
<div class="big" style="left:22px;top:16px">US30 1H</div><div class="big" style="left:639px;top:59px;letter-spacing:1.2px">31735</div><div class="big" style="left:639px;top:253px;letter-spacing:1.2px">31440</div>
<svg width="808" height="545" style="position:absolute;left:0;top:0;pointer-events:none"><g fill="#000" stroke="#000" stroke-linejoin="round"><path d="M65.45 42.41Q65.45 46.15 63.45 48.2Q61.44 50.25 57.8 50.25Q51.03 50.25 49.95 43.39L52.38 42.68Q52.8 45.11 54.17 46.25Q55.54 47.39 57.89 47.39Q60.32 47.39 61.64 46.18Q62.97 44.96 62.97 42.6Q62.97 41.28 62.55 40.45Q62.14 39.63 61.39 39.09Q60.64 38.55 59.6 38.19Q58.56 37.83 57.3 37.4Q55.1 36.7 53.97 35.99Q52.83 35.28 52.17 34.4Q51.51 33.53 51.17 32.36Q50.82 31.19 50.82 29.68Q50.82 26.21 52.64 24.33Q54.46 22.45 57.85 22.45Q61.01 22.45 62.68 23.86Q64.35 25.27 65.02 28.66L62.54 29.29Q62.14 27.15 60.99 26.18Q59.85 25.21 57.82 25.21Q55.6 25.21 54.43 26.28Q53.26 27.36 53.26 29.49Q53.26 30.73 53.72 31.55Q54.17 32.36 55.02 32.93Q55.88 33.49 58.43 34.32Q59.28 34.61 60.13 34.9Q60.98 35.2 61.76 35.61Q62.53 36.02 63.21 36.58Q63.89 37.14 64.39 37.94Q64.88 38.75 65.17 39.84Q65.45 40.93 65.45 42.41Z" stroke-width="1.9"/><path d="M87.05 42.41Q87.05 46.15 85.16 48.2Q83.27 50.25 79.76 50.25Q76.5 50.25 74.56 48.4Q72.62 46.55 72.25 42.93L75.09 42.6Q75.63 47.39 79.76 47.39Q81.84 47.39 83.02 46.11Q84.2 44.82 84.2 42.29Q84.2 40.09 82.85 38.85Q81.5 37.62 78.96 37.62H77.4V34.62H78.9Q81.15 34.62 82.39 33.39Q83.64 32.15 83.64 29.97Q83.64 27.8 82.62 26.54Q81.61 25.29 79.61 25.29Q77.8 25.29 76.68 26.46Q75.56 27.63 75.37 29.75L72.62 29.49Q72.92 26.17 74.8 24.31Q76.69 22.45 79.64 22.45Q82.87 22.45 84.66 24.34Q86.46 26.23 86.46 29.6Q86.46 32.19 85.3 33.81Q84.15 35.43 81.96 36V36.08Q84.37 36.41 85.71 38.11Q87.05 39.82 87.05 42.41Z" stroke-width="1.9"/><path d="M656.45 85.58Q656.45 89.33 654.47 91.39Q652.49 93.45 648.82 93.45Q645.4 93.45 643.37 91.59Q641.33 89.74 640.95 86.1L643.92 85.77Q644.49 90.58 648.82 90.58Q650.99 90.58 652.23 89.29Q653.46 88 653.46 85.46Q653.46 83.25 652.05 82.01Q650.64 80.77 647.97 80.77H646.35V77.77H647.91Q650.27 77.77 651.57 76.53Q652.87 75.29 652.87 73.09Q652.87 70.92 651.81 69.66Q650.75 68.4 648.66 68.4Q646.76 68.4 645.59 69.57Q644.41 70.75 644.22 72.88L641.33 72.61Q641.65 69.28 643.62 67.42Q645.6 65.55 648.69 65.55Q652.08 65.55 653.95 67.45Q655.83 69.34 655.83 72.73Q655.83 75.32 654.62 76.95Q653.42 78.58 651.12 79.15V79.23Q653.64 79.56 655.05 81.27Q656.45 82.98 656.45 85.58Z" stroke-width="1.9"/><path d="M727.05 85.58Q727.05 89.33 725.1 91.39Q723.14 93.45 719.52 93.45Q716.15 93.45 714.14 91.59Q712.13 89.74 711.75 86.1L714.68 85.77Q715.25 90.58 719.52 90.58Q721.66 90.58 722.88 89.29Q724.1 88 724.1 85.46Q724.1 83.25 722.71 82.01Q721.31 80.77 718.68 80.77H717.08V77.77H718.62Q720.95 77.77 722.24 76.53Q723.52 75.29 723.52 73.09Q723.52 70.92 722.47 69.66Q721.42 68.4 719.36 68.4Q717.49 68.4 716.33 69.57Q715.17 70.75 714.98 72.88L712.13 72.61Q712.44 69.28 714.39 67.42Q716.34 65.55 719.39 65.55Q722.73 65.55 724.58 67.45Q726.44 69.34 726.44 72.73Q726.44 75.32 725.25 76.95Q724.06 78.58 721.79 79.15V79.23Q724.28 79.56 725.66 81.27Q727.05 82.98 727.05 85.58Z" stroke-width="1.9"/><path d="M750.45 84.23Q750.45 88.52 748.4 90.99Q746.36 93.45 742.73 93.45Q739.68 93.45 737.81 91.79Q735.94 90.14 735.45 87L738.26 86.6Q739.14 90.62 742.79 90.62Q745.03 90.62 746.29 88.94Q747.56 87.25 747.56 84.31Q747.56 81.75 746.29 80.17Q745.01 78.59 742.85 78.59Q741.72 78.59 740.75 79.04Q739.78 79.48 738.8 80.54H736.08L736.81 65.95H749.18V68.89H739.34L738.93 77.5Q740.73 75.76 743.42 75.76Q746.63 75.76 748.54 78.11Q750.45 80.46 750.45 84.23Z" stroke-width="1.9"/><path d="M656.45 279.41Q656.45 283.15 654.47 285.2Q652.49 287.25 648.82 287.25Q645.4 287.25 643.37 285.4Q641.33 283.55 640.95 279.93L643.92 279.6Q644.49 284.39 648.82 284.39Q650.99 284.39 652.23 283.11Q653.46 281.82 653.46 279.29Q653.46 277.09 652.05 275.85Q650.64 274.62 647.97 274.62H646.35V271.62H647.91Q650.27 271.62 651.57 270.39Q652.87 269.15 652.87 266.97Q652.87 264.8 651.81 263.54Q650.75 262.29 648.66 262.29Q646.76 262.29 645.59 263.46Q644.41 264.63 644.22 266.75L641.33 266.49Q641.65 263.17 643.62 261.31Q645.6 259.45 648.69 259.45Q652.08 259.45 653.95 261.34Q655.83 263.23 655.83 266.6Q655.83 269.19 654.62 270.81Q653.42 272.43 651.12 273V273.08Q653.64 273.41 655.05 275.11Q656.45 276.82 656.45 279.41Z" stroke-width="1.9"/></g><polygon points="131.40,28.92 136.50,25.81 140.40,22.00 142.90,21.90 142.90,50.80 137.80,50.80 137.80,29.73 131.80,33.44" fill="#000"/><polygon points="665.50,72.05 670.60,68.93 674.50,65.10 677.00,65.00 677.00,94.00 671.90,94.00 671.90,72.85 665.90,76.58" fill="#000"/><polygon points="665.50,265.92 670.60,262.81 674.50,259.00 677.00,258.90 677.00,287.80 671.90,287.80 671.90,266.73 665.90,270.44" fill="#000"/><path d="M697.80,258.90 L703.30,258.90 L703.30,276.70 L705.90,276.70 L705.90,281.20 L703.30,281.20 L703.30,287.80 L697.80,287.80 L697.80,281.20 L685.10,281.20 L685.10,276.90Z M691.40,276.70 L697.80,276.70 L697.80,267.00Z" fill="#000" fill-rule="evenodd"/><path d="M721.30,258.90 L726.80,258.90 L726.80,276.70 L729.40,276.70 L729.40,281.20 L726.80,281.20 L726.80,287.80 L721.30,287.80 L721.30,281.20 L708.60,281.20 L708.60,276.90Z M714.90,276.70 L721.30,276.70 L721.30,267.00Z" fill="#000" fill-rule="evenodd"/><ellipse cx="743.05" cy="273.4" rx="7.7" ry="12.65" fill="none" stroke="#000" stroke-width="4.7"/><ellipse cx="103.4" cy="36.35" rx="7.85" ry="12.5" fill="none" stroke="#000" stroke-width="4.7"/><polygon points="686.4,64.9 706.5,64.9 706.5,68.6 694.9,94.1 688.7,94.1 700,69.7 686.4,69.7" fill="#000"/><rect x="153" y="21.9" width="4.9" height="28.8"/><rect x="169.4" y="21.9" width="4.8" height="28.8"/><rect x="155" y="32.9" width="17" height="4.4"/><path d="M25.4,21.9 V39.9 A8.17,8.6 0 0 0 41.75,39.9 V21.9" fill="none" stroke="#000" stroke-width="4.9"/></svg>
</div>
</body></html>
